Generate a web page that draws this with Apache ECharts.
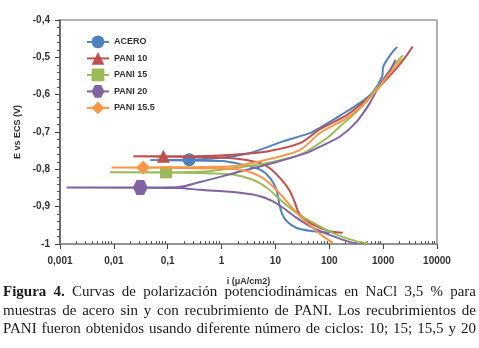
<!DOCTYPE html>
<html><head><meta charset="utf-8">
<script src="https://cdn.jsdelivr.net/npm/echarts@6/dist/echarts.min.js"></script>
<style>html,body{margin:0;padding:0;background:#fff}#c{width:479px;height:348px}</style>
</head><body><div id="c"></div>
<script>
// Series names and legend order
const seriesNames = ['ACERO', 'PANI 10', 'PANI 15', 'PANI 20', 'PANI 15.5'];
// Each curve: [i (µA/cm2), E (V)] from cathodic end, through Ecorr, to anodic end
const acero = [[102,-0.970],[50,-0.966],[24.8,-0.957],[16.2,-0.939],[13.1,-0.917],[11.7,-0.890],[10.5,-0.855],[7.9,-0.823],[5.2,-0.801],[2.2,-0.786],[1.0,-0.778],[0.047,-0.775],[0.25,-0.774],[0.8,-0.770],[3.4,-0.756],[13.8,-0.725],[43.6,-0.703],[68,-0.688],[158,-0.656],[372,-0.622],[646,-0.593],[955,-0.552],[1000,-0.526],[1175,-0.507],[1450,-0.488],[1820,-0.472]];
const pani10 = [[178,-0.970],[102,-0.966],[50,-0.948],[30.8,-0.926],[26.3,-0.913],[23.1,-0.890],[18.6,-0.859],[13.8,-0.832],[7.9,-0.797],[5.2,-0.783],[1.63,-0.770],[0.32,-0.767],[0.023,-0.765],[0.083,-0.765],[0.5,-0.764],[1.63,-0.761],[7.0,-0.752],[28.6,-0.730],[68,-0.692],[214,-0.654],[570,-0.605],[1000,-0.568],[1800,-0.528],[2750,-0.494],[3550,-0.471]];
const pani15 = [[525,-0.997],[324,-0.993],[137,-0.975],[58,-0.948],[24.8,-0.917],[12.2,-0.881],[7.0,-0.850],[3.8,-0.828],[1.63,-0.814],[0.4,-0.810],[0.0085,-0.808],[0.093,-0.808],[0.5,-0.806],[1.63,-0.797],[7.0,-0.783],[28.6,-0.761],[91,-0.716],[158,-0.685],[324,-0.645],[570,-0.605],[1000,-0.560],[1510,-0.525],[2340,-0.494]];
const pani20 = [[340,-0.999],[243,-0.995],[117,-0.979],[50,-0.957],[24.8,-0.930],[13.8,-0.903],[9.0,-0.886],[5.2,-0.872],[2.2,-0.863],[0.4,-0.855],[0.16,-0.850],[0.00133,-0.8485],[0.031,-0.8485],[0.16,-0.847],[0.4,-0.834],[2.2,-0.806],[9.0,-0.783],[38,-0.756],[68,-0.739],[158,-0.712],[324,-0.672],[570,-0.622],[769,-0.587],[1000,-0.560],[1350,-0.534],[1700,-0.506]];
const pani155 = [[117,-0.997],[76,-0.979],[50,-0.957],[28.6,-0.926],[16.2,-0.886],[9.0,-0.846],[5.2,-0.819],[2.2,-0.801],[0.4,-0.797],[0.0091,-0.795],[0.035,-0.795],[0.4,-0.794],[1.63,-0.792],[7.0,-0.774],[28.6,-0.748],[68,-0.702],[214,-0.662],[427,-0.627],[769,-0.587],[1175,-0.552],[1820,-0.520],[2240,-0.505]];
// index of the single marked point in each curve
const markerIndex = [12, 13, 11, 12, 10];
// Axis tick values
const yTicks = [-1, -0.9, -0.8, -0.7, -0.6, -0.5, -0.4];
const xTicks = [0.001, 0.01, 0.1, 1, 10, 100, 1000, 10000];
const xMinorTicks = [];
for (let k = -3; k < 4; k++) for (let m = 2; m <= 9; m++) xMinorTicks.push(+(m * Math.pow(10, k)).toPrecision(3));
const captionLines = [
  'Figura 4. Curvas de polarización potenciodinámicas en NaCl 3,5 % para',
  'muestras de acero sin y con recubrimiento de PANI. Los recubrimientos de',
  'PANI fueron obtenidos usando diferente número de ciclos: 10; 15; 15,5 y 20'
];

const curves = [acero, pani10, pani15, pani20, pani155];
const colors = ['#4F81BD', '#C0504D', '#9BBB59', '#8064A2', '#F79646'];
const symbols = ['circle', 'triangle', 'rect', 'path://M-1,0 L-0.5,-0.87 L0.5,-0.87 L1,0 L0.5,0.87 L-0.5,0.87 Z', 'diamond'];
const symSizes = [13, 13, 12, 15, 14];

const chart = echarts.init(document.getElementById('c'), null, {renderer: 'canvas'});

const series = curves.map((d, s) => ({
  name: seriesNames[s],
  type: 'line',
  data: d,
  smooth: 0.3,
  showSymbol: true,
  showAllSymbol: true,
  symbol: symbols[s],
  symbolSize: (v, p) => p.dataIndex === markerIndex[s] ? symSizes[s] : 0,
  lineStyle: {color: colors[s], width: 2},
  itemStyle: {color: colors[s]},
  emphasis: {disabled: true},
  z: 2 + s
}));

// caption layout (justified lines)
const mctx = document.createElement('canvas').getContext('2d');
const fam = '"Liberation Serif", "DejaVu Serif", serif';
function wWidth(t, fs, bold) { mctx.font = (bold ? 'bold ' : '') + fs + 'px ' + fam; return mctx.measureText(t).width; }
const capLeft = 3, capRight = 476, capW = capRight - capLeft;
let fs = 14;
const natural3 = wWidth(captionLines[2], fs, false);
fs = Math.min(15, fs * (capW - 1) / natural3);
const lineY = [292.5, 311, 329.5];
const graphics = [];
captionLines.forEach((line, li) => {
  const words = line.split(' ');
  const bolds = words.map((w, wi) => li === 0 && wi < 2);
  const widths = words.map((w, wi) => wWidth(w, fs, bolds[wi]));
  const total = widths.reduce((a, b) => a + b, 0);
  let gap = (capW - total) / (words.length - 1);
  if (li === 2) gap = Math.min(gap, wWidth(' ', fs, false) * 1.6);
  let x = capLeft;
  words.forEach((w, wi) => {
    graphics.push({type: 'text', x: x, y: lineY[li], silent: true,
      style: {text: w, fontFamily: fam, fontSize: fs, fontWeight: bolds[wi] ? 'bold' : 'normal', fill: '#1a1a1a', verticalAlign: 'middle', textAlign: 'left'}});
    x += widths[wi] + gap;
  });
});

const fmt = v => String(+(+v).toFixed(4)).replace('.', ',');

chart.setOption({
  animation: false,
  backgroundColor: '#ffffff',
  color: colors,
  grid: {left: 60, right: 42, top: 20, bottom: 104, show: true, borderColor: '#9a9a9a', borderWidth: 1.5, containLabel: false},
  legend: {
    orient: 'vertical', left: 86, top: 35.5, padding: 0,
    itemWidth: 22, itemHeight: 16, itemGap: 3.7,
    data: seriesNames,
    textStyle: {fontFamily: 'Liberation Sans, Arial, sans-serif', fontWeight: 'bold', fontSize: 9, color: '#333'}
  },
  xAxis: [{
    type: 'log', logBase: 10, min: 0.001, max: 10000,
    name: 'i (μA/cm2)', nameLocation: 'middle', nameGap: 33,
    nameTextStyle: {fontFamily: 'Liberation Sans, Arial, sans-serif', fontWeight: 'bold', fontSize: 9, color: '#333'},
    axisLine: {show: true, onZero: false, lineStyle: {color: '#8a8a8a', width: 1.5}},
    axisTick: {show: true, length: 5, inside: false, lineStyle: {color: '#444'}},
    axisLabel: {margin: 12, formatter: fmt, fontFamily: 'Liberation Sans, Arial, sans-serif', fontWeight: 'bold', fontSize: 10, color: '#333'},
    splitLine: {show: false}
  }, {
    type: 'log', logBase: 10, min: 0.001, max: 10000, position: 'bottom',
    axisLine: {show: false},
    axisTick: {show: true, inside: true, length: 3, customValues: xMinorTicks, lineStyle: {color: '#555'}},
    axisLabel: {show: false},
    splitLine: {show: false}
  }],
  yAxis: {
    type: 'value', min: -1, max: -0.4, interval: 0.1,
    name: 'E vs ECS (V)', nameLocation: 'middle', nameGap: 37, nameRotate: 90,
    nameTextStyle: {fontFamily: 'Liberation Sans, Arial, sans-serif', fontWeight: 'bold', fontSize: 9, color: '#333'},
    axisLine: {show: true, onZero: false, lineStyle: {color: '#555', width: 1.5}},
    axisTick: {show: true, length: 5, lineStyle: {color: '#444'}},
    minorTick: {show: true, splitNumber: 5, length: 3, lineStyle: {color: '#555'}},
    axisLabel: {margin: 10, formatter: fmt, fontFamily: 'Liberation Sans, Arial, sans-serif', fontWeight: 'bold', fontSize: 10, color: '#333'},
    splitLine: {show: false}
  },
  series: series,
  graphic: graphics
});
</script>
</body></html>
